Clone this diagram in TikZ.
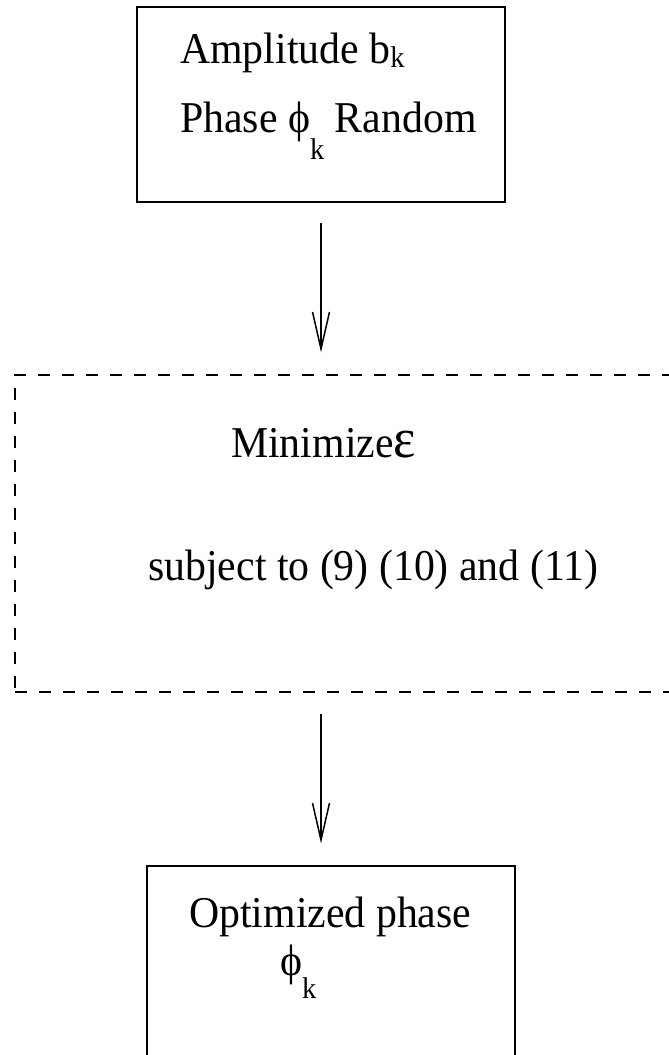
\documentclass[tikz,border=0pt]{standalone}
\usepackage{fontspec}
\setmainfont[FakeStretch=0.95]{Liberation Serif}
\usetikzlibrary{arrows.meta,positioning}
\tikzstyle{block}=[draw,line width=1.2pt,inner sep=0pt]
\tikzstyle{dashed block}=[block,line width=1.4pt,dash pattern=on 12pt off 12pt]
\tikzstyle{label text}=[inner sep=0pt,anchor=base west,font=\fontsize{44}{52}\selectfont]
\tikzstyle{flow}=[draw,line width=1.5pt,-{Straight Barb[length=37pt,width=17pt,line width=1.5pt]}]
\newcommand{\subk}[1]{\raisebox{-#1}{\fontsize{30}{30}\selectfont k}}

\begin{document}
\begin{tikzpicture}[x=1pt,y=-1pt]
    \useasboundingbox (0,0) rectangle (669,1055);
    % the three boxes
    \node[block, minimum width=368pt, minimum height=195pt] (source) at (321,104.5) {};
    \node[dashed block, minimum width=675pt, minimum height=317pt] (solver) at (352.5,533.5) {};
    \node[block, minimum width=368pt, minimum height=219pt] (result) at (331,975.5) {};

    % texts inside the boxes
    \node[label text] (amp) at (180,63) {Amplitude b\subk{4pt}};
    \node[label text] (phase) at (180,132) {Phase ϕ\subk{27pt} Random};
    \node[label text] (minimize) at (231,457) {Minimize{\fontsize{56}{60}\selectfont ε}};
    \node[label text] (subject) at (148,580) {subject to (9) (10) and (11)};
    \node[label text] (optimized) at (189,927) {Optimized phase};
    \node[label text] (phi) at (280,975) {ϕ\subk{23pt}};

    % arrows between the boxes
    \path[flow, shorten <=20pt, shorten >=22pt] (source.south) -- (source.south |- solver.north);
    \path[flow, shorten <=21pt, shorten >=22pt] (solver.south -| source.south) -- (result.north -| source.south);
\end{tikzpicture}
\end{document}
